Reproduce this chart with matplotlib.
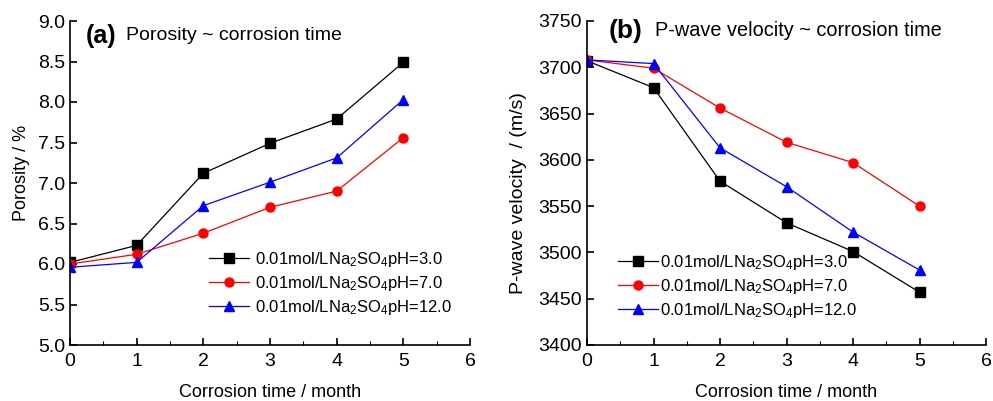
import matplotlib
matplotlib.use("Agg")
import matplotlib.pyplot as plt
from matplotlib.ticker import MultipleLocator, FormatStrFormatter

plt.rcParams['font.family'] = ['Liberation Sans', 'DejaVu Sans']
plt.rcParams['mathtext.fontset'] = 'custom'
plt.rcParams['mathtext.rm'] = 'Liberation Sans'
plt.rcParams['mathtext.default'] = 'regular'

months = [0, 1, 2, 3, 4, 5]
labels = ['0.01mol/LNa$_2$SO$_4$pH=3.0',
          '0.01mol/LNa$_2$SO$_4$pH=7.0',
          '0.01mol/LNa$_2$SO$_4$pH=12.0']

porosity_ph3 = [6.02, 6.23, 7.12, 7.49, 7.79, 8.49]
porosity_ph7 = [6.00, 6.12, 6.38, 6.70, 6.90, 7.56]
porosity_ph12 = [5.96, 6.02, 6.72, 7.01, 7.31, 8.03]

vel_ph3 = [3707, 3678, 3577, 3532, 3501, 3457]
vel_ph7 = [3708, 3699, 3656, 3619, 3597, 3550]
vel_ph12 = [3708, 3704, 3613, 3571, 3522, 3481]

colors = ['black', 'red', 'blue']
markers = ['s', 'o', '^']

fig = plt.figure(figsize=(9.93, 4.01), dpi=100)
ax1 = fig.add_axes([70/993, 56/401, 400/993, 324/401])
ax2 = fig.add_axes([587/993, 56/401, 399/993, 324/401])

def style(ax):
    for s in ['top', 'right']:
        ax.spines[s].set_visible(False)
    for s in ['left', 'bottom']:
        ax.spines[s].set_linewidth(1.2)
    ax.tick_params(direction='in', which='major', length=5, width=1.2, labelsize=14)
    ax.tick_params(axis='x', which='major', pad=6)
    ax.tick_params(direction='in', which='minor', length=3, width=0.8)
    ax.xaxis.set_minor_locator(MultipleLocator(0.5))
    ax.set_xlim(0, 6)
    ax.set_xticks(range(0, 7))
    ax.set_xlabel('Corrosion time / month', fontsize=13, labelpad=10)

for ys, c, m, lab in zip([porosity_ph3, porosity_ph7, porosity_ph12], colors, markers, labels):
    ax1.plot(months, ys, color=c, marker=m, markersize=6.5, linewidth=0.9, label=lab)
style(ax1)
ax1.set_ylim(5.0, 9.0)
ax1.set_yticks([5.0, 5.5, 6.0, 6.5, 7.0, 7.5, 8.0, 8.5, 9.0])
ax1.yaxis.set_major_formatter(FormatStrFormatter('%.1f'))
ax1.set_ylabel('Porosity / %', fontsize=13, labelpad=2)
ax1.yaxis.set_label_coords(-0.1, 0.53)
ax1.text(0.04, 0.955, '(a)', transform=ax1.transAxes, fontsize=18, fontweight='bold', va='center')
ax1.text(0.14, 0.955, 'Porosity ~ corrosion time', transform=ax1.transAxes, fontsize=14, va='center')
ax1.legend(loc='upper left', bbox_to_anchor=(0.33, 0.315), frameon=False, fontsize=12,
           handlelength=2.4, handletextpad=0.4, labelspacing=0.3, borderaxespad=0)

for ys, c, m, lab in zip([vel_ph3, vel_ph7, vel_ph12], colors, markers, labels):
    ax2.plot(months, ys, color=c, marker=m, markersize=6.5, linewidth=0.9, label=lab)
style(ax2)
ax2.set_ylim(3400, 3750)
ax2.set_yticks(range(3400, 3751, 50))
ax2.set_ylabel('P-wave velocity  / (m/s)', fontsize=14)
ax2.yaxis.set_label_coords(-0.15, 0.47)
ax2.text(0.055, 0.97, '(b)', transform=ax2.transAxes, fontsize=19, fontweight='bold', va='center')
ax2.text(0.17, 0.97, 'P-wave velocity ~ corrosion time', transform=ax2.transAxes, fontsize=14.3, va='center')
ax2.legend(loc='upper left', bbox_to_anchor=(0.06, 0.305), frameon=False, fontsize=12,
           handlelength=2.4, handletextpad=0.15, labelspacing=0.3, borderaxespad=0)

fig.savefig('out.png', dpi=100)
